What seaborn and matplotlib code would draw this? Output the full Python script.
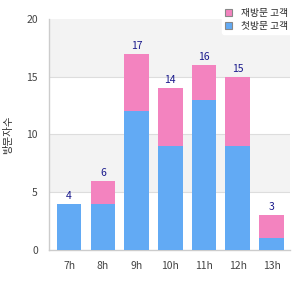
import numpy as np
import pandas as pd
import matplotlib
matplotlib.use("Agg")
import matplotlib.pyplot as plt
import seaborn as sns

# DATA

hours = ["7h", "8h", "9h", "10h", "11h", "12h", "13h"]
first_visit = [4, 4, 12, 9, 13, 9, 1]
repeat_visit = [0, 2, 5, 5, 3, 6, 2]

label_repeat = "재방문 고객"
label_first = "첫방문 고객"
y_label = "방문자수"

df = pd.DataFrame({"hour": hours, "first": first_visit, "repeat": repeat_visit})
df["total"] = df["first"] + df["repeat"]

# STYLE

sns.set_style("white")
plt.rcParams["font.family"] = ["Noto Sans CJK KR", "DejaVu Sans"]

blue = "#62aaf4"
pink = "#f383bf"

fig = plt.figure(figsize=(3, 3), dpi=100)
ax = fig.add_axes([0.163, 0.167, 0.804, 0.77])

# alternating bands
for lo, hi, c in [(0, 5, "white"), (5, 10, "#f3f3f3"), (10, 15, "white"), (15, 20, "#f3f3f3")]:
    ax.axhspan(lo, hi, color=c, zorder=0, lw=0)
for y in [5, 10, 15]:
    ax.axhline(y, color="#dddddd", lw=0.8, zorder=0.5)

# stacked bars
sns.barplot(data=df, x="hour", y="total", color=pink, width=0.73, linewidth=0,
            saturation=1, ax=ax, label=label_repeat, zorder=2, legend=False)
sns.barplot(data=df, x="hour", y="first", color=blue, width=0.73, linewidth=0,
            saturation=1, ax=ax, label=label_first, zorder=3, legend=False)

for i, t in enumerate(df["total"]):
    ax.text(i, t + 0.25, str(t), ha="center", va="bottom", fontsize=7.5,
            color="#1a1a8c", zorder=4)

ax.set_ylim(0, 20)
ax.set_xlim(-0.6, 6.55)
ax.set_yticks([0, 5, 10, 15, 20])
ax.set_xlabel("")
ax.set_ylabel(y_label, fontsize=7.5, color="#333333")
ax.yaxis.set_label_coords(-0.15, 0.5)
ax.tick_params(axis="both", labelsize=7.5, colors="#444444", length=0, pad=8)

for s in ["top", "right"]:
    ax.spines[s].set_visible(False)
for s in ["left", "bottom"]:
    ax.spines[s].set_color("#cccccc")
    ax.spines[s].set_linewidth(1)

handles = [plt.Rectangle((0, 0), 1, 1, facecolor=pink, edgecolor="#888888", lw=0.8),
           plt.Rectangle((0, 0), 1, 1, facecolor=blue, edgecolor="#888888", lw=0.8)]
leg = fig.legend(handles, [label_repeat, label_first], loc="upper right",
                 bbox_to_anchor=(0.985, 1.0), fontsize=7, frameon=True,
                 handlelength=0.7, handleheight=0.7, borderpad=0.3,
                 labelspacing=0.3, handletextpad=0.9)
leg.get_frame().set_edgecolor("white")
leg.get_frame().set_facecolor("white")
leg.get_frame().set_alpha(1)

fig.savefig("out.png", dpi=100)
